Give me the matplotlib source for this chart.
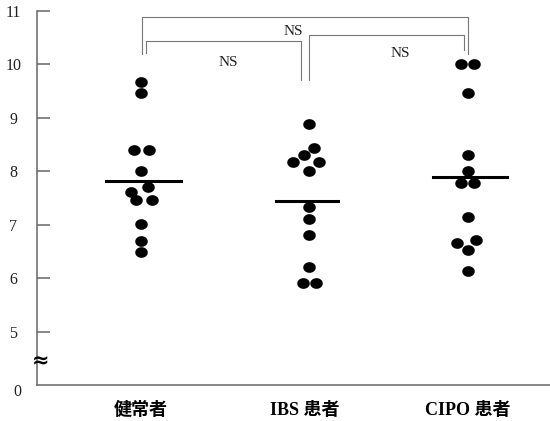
import numpy as np
import matplotlib.pyplot as plt
from matplotlib.path import Path
from matplotlib.markers import MarkerStyle

plt.rcParams['font.family'] = ['Liberation Serif', 'Noto Sans CJK JP', 'DejaVu Sans']

# group names and measured values
groups = ['健常者', 'IBS 患者', 'CIPO 患者']
healthy = [9.67, 9.46, 8.40, 8.40, 8.01, 7.70, 7.62, 7.47, 7.47, 7.01, 6.70, 6.48]
ibs = [8.89, 8.43, 8.30, 8.18, 8.18, 8.01, 7.34, 7.11, 6.81, 6.21, 5.90, 5.90]
cipo = [10.01, 10.01, 9.47, 8.31, 8.01, 7.79, 7.79, 7.14, 6.72, 6.66, 6.53, 6.14]
means = [7.81, 7.45, 7.90]
yticks = [5, 6, 7, 8, 9, 10, 11]
sig_labels = ['NS', 'NS', 'NS']

# horizontal spread of the dots (pixels), so overlapping points stay visible
spread_px = [
    [0, 0, -7, 8, 0, 7, -10, -5, 11, 0, 0, 0],
    [4, 9, -1, -12, 14, 4, 4, 4, 4, 4, -2, 11],
    [-7, 6, 0, 0, 0, -7, 6, 0, 8, -11, 0, 0],
]
px = 1 / 163.5  # one pixel in x data units

# slightly flattened dot
t = np.linspace(0, 2 * np.pi, 60)
dot = MarkerStyle(Path(np.column_stack([1.2 * np.cos(t), np.sin(t)]), closed=True))

fig = plt.figure(figsize=(5.5, 4.21), dpi=100)
ax = fig.add_axes([37 / 550, 36 / 421, 513 / 550, 374 / 421])
ax.set_xlim(-104 * px, 409 * px)
ax.set_ylim(4, 11)

gray = '#666666'
for s in ['top', 'right']:
    ax.spines[s].set_visible(False)
for s in ['left', 'bottom']:
    ax.spines[s].set_color(gray)
    ax.spines[s].set_linewidth(1.1)

ax.set_xticks([])
ax.set_yticks(yticks, [str(v) for v in yticks])
ax.tick_params(axis='y', direction='in', length=9.5, width=1.1, color=gray,
               pad=17, labelsize=11.5, labelcolor='#222222')
for lbl in ax.get_yticklabels():
    lbl.set_ha('center')

# broken axis: the bottom is labelled 0
ax.text(-124 * px, 3.87, '0', ha='center', va='center', fontsize=11.5, color='#222222')
ax.text(-100 * px, 4.45, '≈', ha='center', va='center', fontsize=15,
        fontweight='bold', family='DejaVu Sans')

for i, vals in enumerate([healthy, ibs, cipo]):
    xs = i + np.array(spread_px[i]) * px
    ax.scatter(xs, vals, marker=dot, s=8.0 ** 2, color='black', zorder=3, clip_on=False)

half = [37.5, 31, 37]
shift = [2.5, 2.5, 2]
for i, m in enumerate(means):
    c = i + shift[i] * px
    ax.plot([c - half[i] * px, c + half[i] * px], [m, m], color='black', lw=2.2, zorder=4)

# significance brackets
bcol = '#777777'
brackets = [
    ((0.7 * px, 10.20), (2 + 0.3 * px, 10.89), (2 + 0.3 * px, 10.20)),
    ((0.03, 10.21), (0.977, 10.43), (0.977, 9.71)),
    ((1.03, 9.71), (1.974, 10.55), (1.974, 10.27)),
]
for (x0, y0), (x1, ytop), (_, y1) in brackets:
    ax.plot([x0, x0, x1, x1], [y0, ytop, ytop, y1], color=bcol, lw=0.8, clip_on=False)

for (x, y), lab in zip([(0.93, 10.61), (0.532, 10.04), (1.584, 10.20)], sig_labels):
    ax.text(x, y, lab, ha='center', va='center', fontsize=11, color='#222222')

for i, g in enumerate(groups):
    ax.text(i, 3.53, g, ha='center', va='center', fontsize=13, fontweight='bold')

fig.savefig('out.png', dpi=100)
